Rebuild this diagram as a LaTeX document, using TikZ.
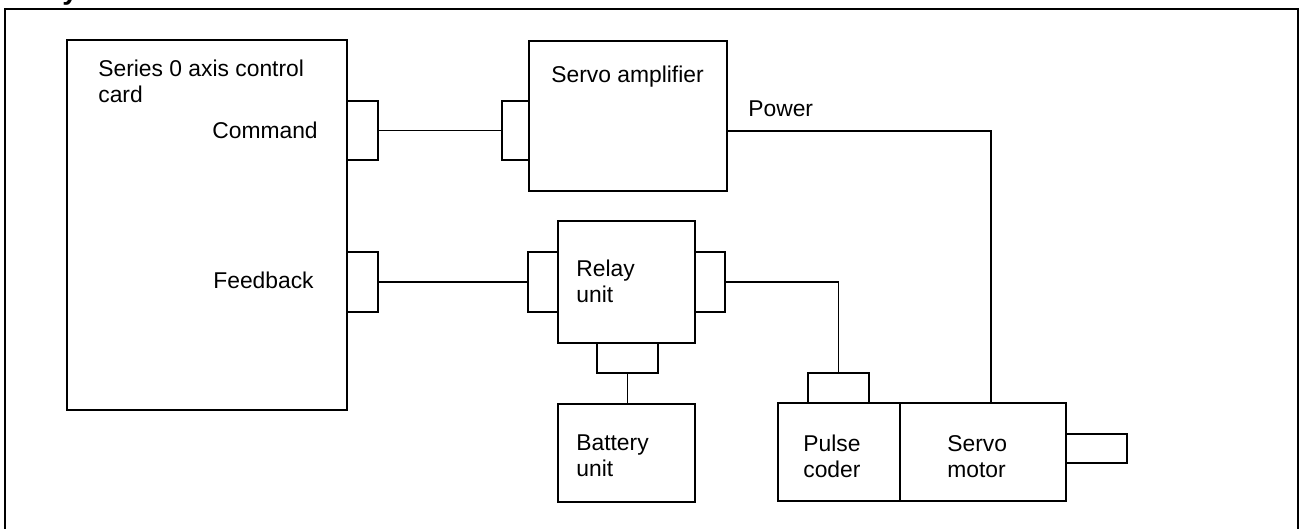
\documentclass[tikz,border=0pt]{standalone}
\usepackage{fontspec}
\setmainfont{Liberation Sans}
\usetikzlibrary{fit, calc}
\tikzset{
  unit/.style={rectangle, draw=black, line width=0.7pt, inner sep=0pt},
  plug/.style={unit},
  wire/.style={draw=black, line width=0.7pt},
  lbl/.style={anchor=base west, inner sep=0pt, align=left,
    font=\fontsize{13}{14.7}\selectfont},
}

\begin{document}
\begin{tikzpicture}[x=0.02cm, y=-0.02cm]
\useasboundingbox (0,0) rectangle (1300,528);
% outer frame, cut off at the top and bottom
\node[anchor=base west, inner sep=0pt, font=\fontsize{16}{18}\selectfont\bfseries] (head) at (62,-1) {y};
\draw[line width=0.9pt] (5,545) -- (5,9) -- (1298,9) -- (1298,545);
% units
\node[unit, fit={(67,40) (347,410)}] (card) {};
\node[unit, fit={(529,41) (727,191)}] (amp) {};
\node[unit, fit={(558,221) (695,343)}] (relay) {};
\node[unit, fit={(558,404) (695,502)}] (battery) {};
\node[unit, fit={(778,403) (900,501)}] (coder) {};
\node[unit, fit={(900,403) (1066,501)}] (motor) {};
\node[unit, fit={(1066,434) (1127,463)}] (shaft) {};
% plugs
\node[plug, fit={(347,101) (378,160)}] (cmdplug) {};
\node[plug, fit={(347,252) (378,312)}] (fbplug) {};
\node[plug, fit={(502,101) (529,160)}] (ampplug) {};
\node[plug, fit={(528,252) (558,312)}] (relayL) {};
\node[plug, fit={(695,252) (725,312)}] (relayR) {};
\node[plug, fit={(597,343) (658,373)}] (relayB) {};
\node[plug, fit={(808,373) (869,403)}] (coderplug) {};
% labels (base = last line)
\node[lbl] (cardtxt) at (98,102) {Series 0 axis control\\card};
\node[lbl] (cmdtxt) at (212,138) {Command};
\node[lbl] (fbtxt) at (213,288) {Feedback};
\node[lbl] (amptxt) at (551,82) {Servo amplifier};
\node[lbl] (pwrtxt) at (748,116) {Power};
\node[lbl] (relaytxt) at (576,302) {Relay\\unit};
\node[lbl] (battxt) at (576,476) {Battery\\unit};
\node[lbl] (codertxt) at (803,477) {Pulse\\coder};
\node[lbl] (motortxt) at (947,477) {Servo\\motor};
% cables
\coordinate (pwr) at (991,131);
\draw[wire] (cmdplug.east) -- (ampplug.west);
\draw[wire] (fbplug.east) -- (relayL.west);
\draw[wire] (amp.east |- pwr) -- (pwr) -- (pwr |- motor.north);
\draw[wire] (relayR.east) -| (coderplug.north);
\draw[wire] (relayB.south) -- (relayB.south |- battery.north);
\end{tikzpicture}
\end{document}
